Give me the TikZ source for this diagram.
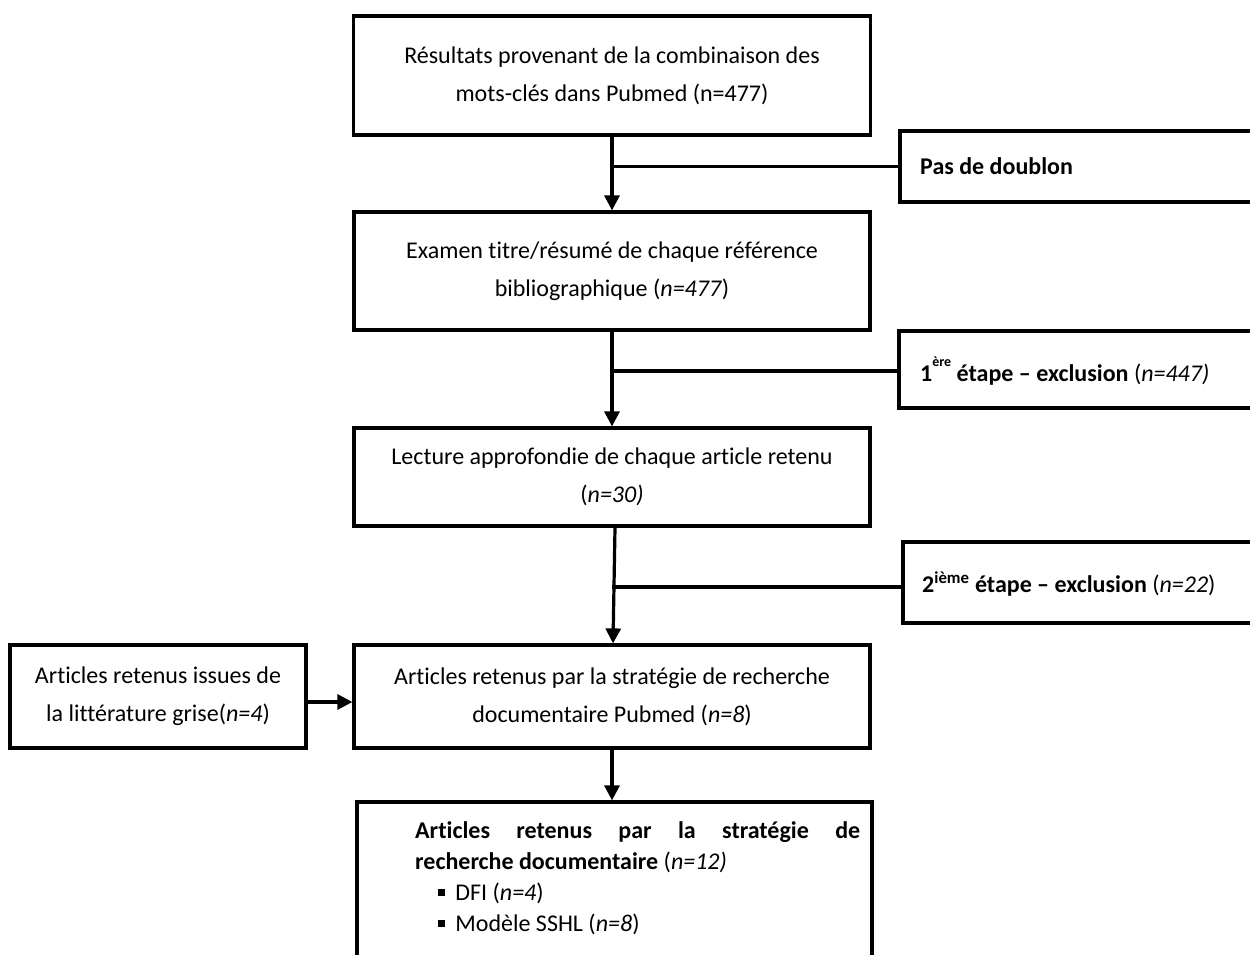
\documentclass[tikz,border=0pt]{standalone}
\usepackage{fontspec}
\setmainfont[Ligatures={NoCommon}]{Carlito}
\usetikzlibrary{arrows.meta}
\newcommand\fsz{\fontsize{24}{38}\selectfont}
\newcommand\fszb{\fontsize{24}{31}\selectfont}
\newcommand\sqbullet{\rule[0.17em]{0.3em}{0.3em}}
\tikzset{
  box/.style={draw, line width=3.2pt, inner sep=0pt, align=center, font=\fsz},
  sidebox/.style={draw, line width=3.2pt, inner sep=0pt},
  sidetext/.style={anchor=west, inner sep=0pt, font=\fsz\bfseries},
  conn/.style={line width=3.2pt},
  arr/.style={line width=3.2pt, -{Triangle[length=15pt,width=15pt]}},
}
\begin{document}
\begin{tikzpicture}[x=1pt,y=-1pt]
\useasboundingbox (0,0) rectangle (1250,954);
\fill[white] (0,0) rectangle (1250,954);
\clip (0,0) rectangle (1250,954);

\node[box, minimum width=517pt, minimum height=119pt] (b1) at (612,75.5)
  {Résultats provenant de la combinaison des\\mots-clés dans Pubmed (n=477)};
\node[box, minimum width=516pt, minimum height=118pt] (b2) at (612,271)
  {Examen titre/résumé de chaque référence\\bibliographique (\textit{n=477})};
\node[box, minimum width=516pt, minimum height=98pt] (b3) at (612,477)
  {Lecture approfondie de chaque article retenu\\(\textit{n=30)}};
\node[box, minimum width=516pt, minimum height=103pt] (b4) at (612,696.5)
  {Articles retenus par la stratégie de recherche\\documentaire Pubmed (\textit{n=8})};
\node[box, minimum width=296pt, minimum height=103pt] (lit) at (158,696.5)
  {Articles retenus issues de\\la littérature grise(\textit{n=4})};
\node[draw, line width=3.2pt, minimum width=515pt, minimum height=160pt, inner sep=0pt] (b5) at (614.5,882) {};
\node[anchor=north west, inner sep=0pt, align=left, font=\fszb] (b5t) at (415,821)
  {\makebox[445pt][l]{\bfseries Articles\hfill retenus\hfill par\hfill la\hfill stratégie\hfill de}\\
   {\bfseries recherche documentaire} (\textit{n=12)}\\
   \hspace*{23pt}\sqbullet\hspace{10pt}DFI (\textit{n=4})\\
   \hspace*{23pt}\sqbullet\hspace{10pt}Modèle SSHL (\textit{n=8})};

\node[sidebox, minimum width=400pt, minimum height=71pt] (pas) at (1100,166.5) {};
\node[sidetext] (pastxt) at (920,166.5) {Pas de doublon};
\node[sidebox, minimum width=401pt, minimum height=77pt] (ere) at (1099.5,369.5) {};
\node[sidetext] (eretxt) at (920,371)
  {1\raisebox{0.62em}{\fontsize{14}{14}\selectfont ère} étape – exclusion {\mdseries(\itshape n=447)}};
\node[sidebox, minimum width=397pt, minimum height=81pt] (ieme) at (1101.5,582.5) {};
\node[sidetext] (iemetxt) at (922,584)
  {2\textsuperscript{ième} étape – exclusion {\mdseries(\textit{n=22})}};

\draw[arr] (b1.south) -- (b2.north);
\draw[arr] (b2.south) -- (b3.north);
\draw[arr] ([xshift=3pt]b3.south) -- ([xshift=1pt]b4.north);
\draw[arr] (b4.south) -- (b4.south |- b5.north);
\draw[arr] ([yshift=-5.5pt]lit.east) -- ([yshift=-5.5pt]lit.east -| b4.west);

\draw[conn] (pas.west) -- (pas.west -| b1.south);
\draw[conn] ([yshift=-1.5pt]ere.west) -- ([yshift=-1.5pt]ere.west -| b2.south);
\draw[conn] ([yshift=-4.5pt]ieme.west) -- ([yshift=-4.5pt]ieme.west -| b3.south);
\end{tikzpicture}
\end{document}
